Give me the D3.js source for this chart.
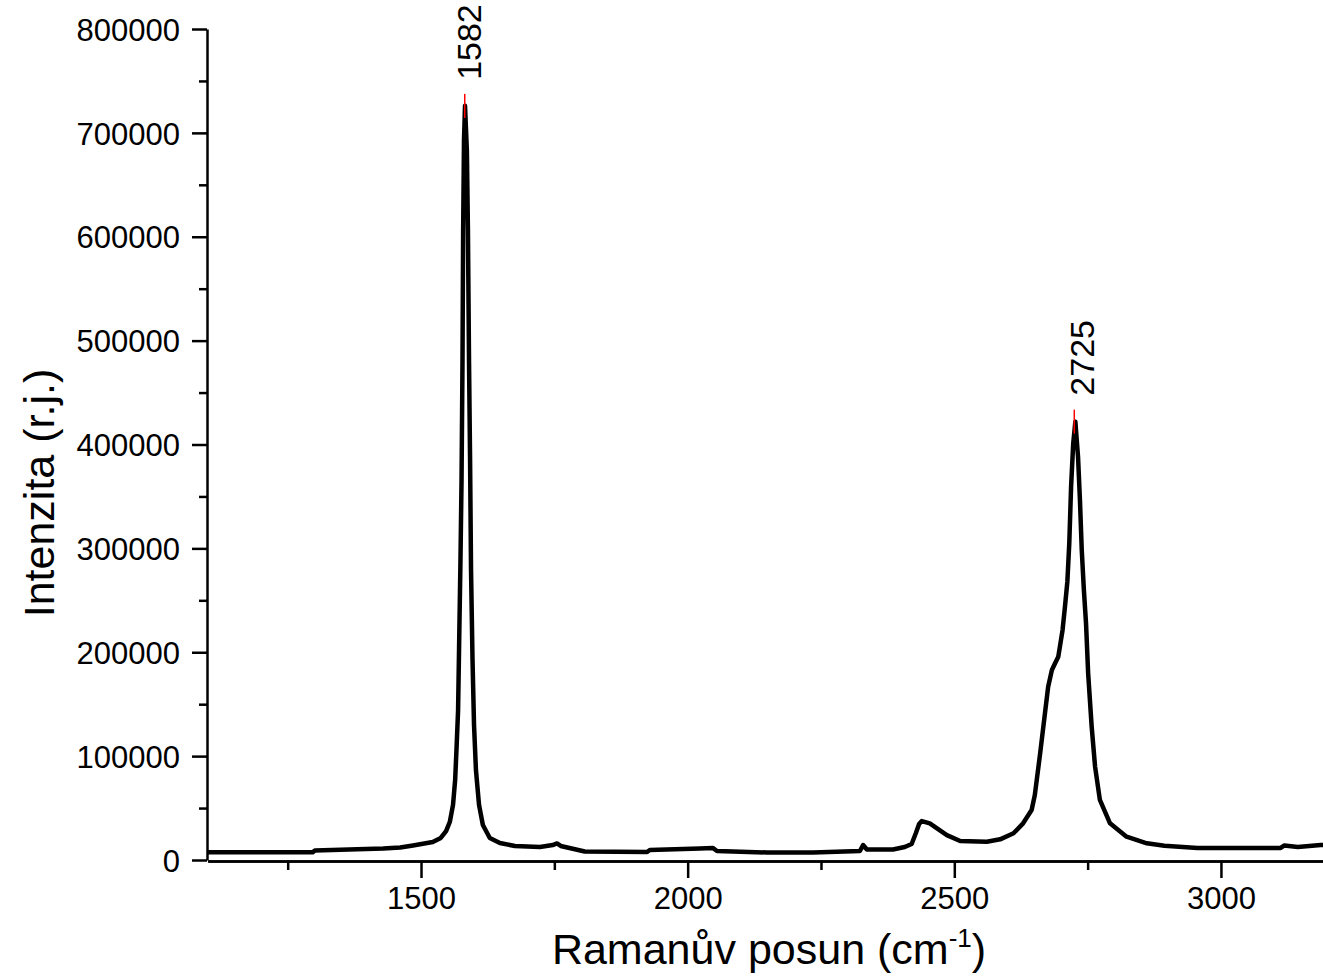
<!DOCTYPE html>
<html>
<head>
<meta charset="utf-8">
<script src="https://cdn.jsdelivr.net/npm/d3@7"></script>
<style>
  html, body { margin: 0; padding: 0; background: #fff; }
  svg { display: block; }
  text { font-family: "Liberation Sans", Arial, sans-serif; fill: #000; }
</style>
</head>
<body>
<svg id="chart" width="1323" height="977"></svg>
<script>
// ---- data ----
const wavenumber = [1100, 1297, 1301, 1429, 1461, 1485, 1522, 1537, 1547, 1554, 1560, 1564, 1566.5, 1569.5, 1571.3, 1574, 1576, 1577.8, 1579, 1580.6, 1582.5, 1586, 1588, 1590, 1592, 1593.8, 1596.6, 1599.4, 1603, 1608.8, 1616, 1629, 1648, 1676, 1723, 1747, 1755, 1762, 1807, 1924, 1929, 2023, 2047, 2055, 2149, 2235, 2323, 2329, 2336, 2385, 2407, 2420, 2428, 2434, 2439, 2454, 2486, 2511, 2561, 2586, 2611, 2629, 2645, 2651, 2661, 2670, 2676, 2683, 2689, 2695, 2698, 2703, 2707.5, 2712, 2715.6, 2719, 2723, 2727, 2732, 2735.6, 2739, 2743, 2747, 2751, 2757.6, 2764, 2773, 2792, 2823, 2861, 2894, 2956, 3112, 3119, 3144, 3187, 3200];
const intensity = [7400, 7400, 9100, 11100, 12000, 14000, 17300, 21200, 27900, 36600, 53000, 77000, 106000, 144000, 202000, 289000, 366000, 481000, 606000, 693000, 726000, 683000, 606000, 481000, 385000, 279000, 192500, 130000, 86600, 53000, 33700, 21200, 16400, 13500, 12500, 14400, 15900, 13500, 8200, 7700, 9600, 11100, 11600, 8700, 7200, 7200, 8700, 14400, 10100, 10100, 12500, 15400, 26000, 34700, 37500, 35300, 24000, 18300, 17600, 19900, 25700, 35300, 48100, 62600, 102700, 141200, 166800, 182900, 189400, 195700, 205300, 221400, 243900, 267900, 304900, 359400, 401100, 422000, 388300, 346600, 298400, 259900, 227900, 179700, 128300, 89800, 57800, 35300, 22400, 16100, 13800, 11600, 11600, 14000, 12500, 14400, 14400];

const peakPositions = [1582, 2725];
const peakHeights = [726000, 422000];
const peakLabels = ["1582", "2725"];

const xMajorTicks = [1500, 2000, 2500, 3000];
const xMinorTicks = [1250, 1750, 2250, 2750];
const yMajorTicks = [0, 100000, 200000, 300000, 400000, 500000, 600000, 700000, 800000];
const yMinorTicks = [50000, 150000, 250000, 350000, 450000, 550000, 650000, 750000];

const xTitle = "Ramanův posun (cm";
const xTitleSup = "-1";
const yTitle = "Intenzita (r.j.)";

// ---- layout ----
const svg = d3.select("#chart");
const x = d3.scaleLinear().domain([1100, 3200]).range([207.7, 1327.6]);
const y = d3.scaleLinear().domain([0, 800000]).range([860, 29]);
const axisY0 = 861;

const points = wavenumber.map((w, i) => [w, intensity[i]]);

// data line
svg.append("path")
  .datum(points)
  .attr("fill", "none")
  .attr("stroke", "#000")
  .attr("stroke-width", 4.5)
  .attr("stroke-linejoin", "round")
  .attr("d", d3.line().x(d => x(d[0])).y(d => y(d[1])));

// axes
const styleAxis = g => {
  g.select(".domain").attr("stroke", "#000").attr("stroke-width", 2.5);
  g.selectAll(".tick line").attr("stroke", "#000").attr("stroke-width", 2.5);
  g.selectAll("text").style("font-size", "31px").style("font-family", '"Liberation Sans", Arial, sans-serif');
};

// x axis
const gx = svg.append("g").attr("transform", `translate(0,${axisY0})`)
  .call(d3.axisBottom(x).tickValues(xMajorTicks).tickSize(17).tickPadding(9).tickFormat(d3.format("d")).tickSizeOuter(0));
styleAxis(gx);
const gxm = svg.append("g").attr("transform", `translate(0,${axisY0})`)
  .call(d3.axisBottom(x).tickValues(xMinorTicks).tickSize(9).tickFormat("").tickSizeOuter(0));
styleAxis(gxm);

// y axis
const gy = svg.append("g").attr("transform", "translate(207,0)")
  .call(d3.axisLeft(y).tickValues(yMajorTicks).tickSize(15).tickPadding(12).tickFormat(d3.format("d")).tickSizeOuter(0));
styleAxis(gy);
gy.selectAll("text").attr("dy", "0.36em");
const gym = svg.append("g").attr("transform", "translate(207,0)")
  .call(d3.axisLeft(y).tickValues(yMinorTicks).tickSize(8).tickFormat("").tickSizeOuter(0));
styleAxis(gym);
gym.select(".domain").remove();

// peak markers and labels
const labelShift = [0, 4];
peakPositions.forEach((p, i) => {
  const px = x(p), py = y(peakHeights[i]);
  svg.append("line")
    .attr("x1", px).attr("x2", px)
    .attr("y1", py - 12).attr("y2", py + 12)
    .attr("stroke", "#ff0000").attr("stroke-width", 1.5);
  svg.append("text")
    .attr("transform", `translate(${px + 16 + labelShift[i]},${py - 26}) rotate(-90)`)
    .attr("text-anchor", "start")
    .style("font-size", "34px")
    .text(peakLabels[i]);
});

// axis titles
const xt = svg.append("text")
  .attr("x", 769).attr("y", 964)
  .attr("text-anchor", "middle")
  .style("font-size", "43px");
xt.append("tspan").text(xTitle);
xt.append("tspan").attr("dy", -17).style("font-size", "26px").text(xTitleSup);
xt.append("tspan").attr("dy", 17).text(")");

svg.append("text")
  .attr("transform", "translate(54,493) rotate(-90)")
  .attr("text-anchor", "middle")
  .style("font-size", "43px")
  .text(yTitle);
</script>
</body>
</html>
